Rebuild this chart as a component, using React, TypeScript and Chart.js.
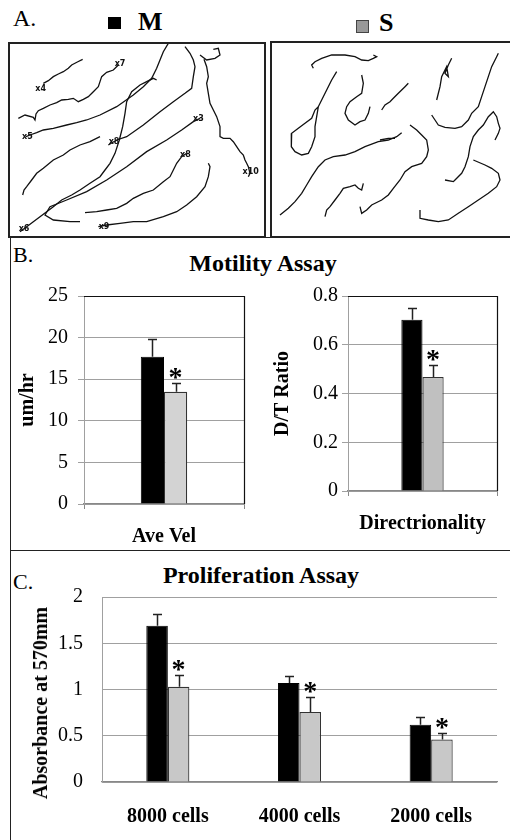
import React, { useEffect, useRef } from "react";
import { Chart, registerables } from "chart.js";
Chart.register(...registerables);

const FONT = "'Liberation Serif', 'Times New Roman', serif";

// ---------- Legend ----------
const groupNames = ["M", "S"];

// ---------- Panel B: motility ----------
const velCategories = ["Ave Vel"];
const velM = [17.7];
const velMErr = [2.1];
const velS = [13.5];
const velSErr = [1.1];
const velSig = [true];

const dirCategories = ["Directrionality"];
const dirM = [0.703];
const dirMErr = [0.046];
const dirS = [0.468];
const dirSErr = [0.05];
const dirSig = [true];

// ---------- Panel C: proliferation ----------
const prolCategories = ["8000 cells", "4000 cells", "2000 cells"];
const prolM = [1.69, 1.07, 0.62];
const prolMErr = [0.127, 0.076, 0.087];
const prolS = [1.03, 0.756, 0.46];
const prolSErr = [0.124, 0.166, 0.065];
const prolSig = [true, true, true];

// ---------- Panel A: cell tracks (track coordinates, arbitrary units) ----------
type P = number[];
const trackM1: P[] = [[130,130],[145,122],[160,110],[175,102],[190,95],[205,85],[215,75],[232,66],[248,58]];
const trackM2: P[] = [[55,235],[75,225],[100,232],[105,240],[108,222],[115,212],[130,205],[150,195],[170,188],[185,180],[205,178],[220,175],[235,185],[250,178],[265,170],[280,155],[295,140],[300,125],[305,110],[320,97],[340,90],[355,75]];
const trackM3: P[] = [[78,290],[90,285],[110,278],[130,270],[160,265],[200,255],[230,248],[260,240],[300,225],[350,200],[400,165],[430,140],[455,115],[470,85],[480,60],[490,35],[505,10]];
const trackM4: P[] = [[60,575],[80,560],[100,545],[120,530],[160,500],[185,480],[215,465],[240,450],[270,430],[300,410],[315,390],[330,370],[345,340],[358,300],[368,260],[375,220],[380,185],[395,155],[420,135],[440,125],[460,115],[470,120]];
const trackM5: P[] = [[325,315],[350,300],[380,290],[430,255],[480,215],[520,185],[555,160],[575,145],[580,110],[585,80],[580,60],[570,40],[555,20]];
const trackM6: P[] = [[240,545],[210,545],[160,540],[135,525],[150,500],[200,480],[260,455],[320,420],[380,380],[440,335],[500,300],[545,270],[580,245],[600,235]];
const trackM7: P[] = [[68,465],[72,450],[80,440],[95,420],[110,400],[130,385],[160,360],[190,345],[210,330],[240,315],[270,305],[300,290]];
const trackM8: P[] = [[255,518],[290,515],[320,510],[350,505],[380,490],[400,475],[430,460],[460,450],[490,425],[510,410],[520,390],[530,370],[545,350],[560,340]];
const trackM9: P[] = [[295,560],[320,555],[360,550],[400,545],[440,545],[490,530],[530,515],[560,495],[590,470],[615,440],[625,410],[630,380],[625,370]];
const trackM10: P[] = [[600,45],[620,60],[645,55],[660,45],[655,25],[640,28]];
const trackM11: P[] = [[612,58],[620,80],[625,110],[620,130],[625,160],[630,190],[640,210],[650,230],[660,260],[660,290],[670,295],[690,295],[700,305],[710,320],[720,335],[730,345],[735,360],[740,370],[745,380],[750,400],[745,410]];
const tracksM = [trackM1, trackM2, trackM3, trackM4, trackM5, trackM6, trackM7, trackM8, trackM9, trackM10, trackM11];
const trackLabelsM: [string, number, number][] = [["x4",122,148],["x7",360,72],["x5",82,292],["x6",72,568],["x8",342,306],["x3",595,238],["x9",312,560],["x10",752,396],["x8",556,344]];

const trackS1: P[] = [[145,85],[140,75],[150,65],[170,55],[200,45],[240,45],[270,50],[290,60],[310,62],[325,55],[335,50],[325,45]];
const trackS2: P[] = [[215,95],[200,120],[185,150],[170,180],[160,200],[150,210],[140,235],[120,250],[100,265],[80,280],[78,300],[80,320],[90,335],[110,345],[130,340],[140,320],[150,290],[150,260],[155,230],[160,200]];
const trackS3: P[] = [[290,105],[295,130],[290,160],[275,170],[255,185],[245,200],[240,220],[250,240],[270,255],[285,245],[300,240],[310,220],[315,200]];
const trackS4: P[] = [[350,210],[360,195],[375,185],[385,175],[400,160],[420,140],[430,130]];
const trackS5: P[] = [[45,525],[70,505],[90,485],[110,460],[125,435],[140,410],[160,380],[180,360],[205,350],[240,345],[270,335],[300,320],[340,305],[370,300],[395,290],[410,278]];
const trackS6: P[] = [[345,300],[370,295],[390,295]];
const trackS7: P[] = [[435,255],[455,270],[470,285],[485,300],[490,330],[485,350],[470,370],[440,380],[420,395],[405,420],[385,445],[370,465],[350,480],[320,495],[305,510],[290,520],[285,500]];
const trackS8: P[] = [[180,530],[185,510],[195,500],[210,480],[225,460],[235,445],[255,440],[270,435],[280,445],[290,450],[295,430]];
const trackS9: P[] = [[560,55],[550,75],[540,100],[550,110],[545,80],[530,110],[525,140],[515,180]];
const trackS10: P[] = [[500,225],[510,240],[520,255],[540,262],[570,265],[590,260],[610,240],[620,220],[640,200],[650,170],[660,140],[670,110],[680,80],[695,50],[700,40]];
const trackS11: P[] = [[540,420],[565,425],[570,420],[590,400],[600,380],[610,350],[615,320],[625,290],[640,270],[655,255],[670,230],[685,215],[695,230],[700,250],[705,265],[700,280],[690,300]];
const trackS12: P[] = [[625,360],[660,375],[680,385],[700,400],[705,420],[695,440],[670,460],[640,480],[610,500],[580,520],[550,540],[520,545],[490,540],[465,535],[465,510]];
const tracksS = [trackS1, trackS2, trackS3, trackS4, trackS5, trackS6, trackS7, trackS8, trackS9, trackS10, trackS11, trackS12];

// ---------- Components ----------
function TrackPanel(props: { tracks: P[][]; labels: [string, number, number][]; xr: [number, number]; yr: [number, number]; left: number; top: number; w: number; h: number }) {
  const ref = useRef<HTMLCanvasElement>(null);
  useEffect(() => {
    const labels = props.labels;
    const chart = new Chart(ref.current!, {
      type: "scatter",
      data: {
        datasets: props.tracks.map((t) => ({
          data: t.map(([x, y]) => ({ x, y })),
          showLine: true,
          borderColor: "#111",
          borderWidth: 1.3,
          pointRadius: 0,
          tension: 0,
        })),
      },
      options: {
        responsive: false,
        animation: false,
        layout: { padding: 0 },
        plugins: { legend: { display: false }, tooltip: { enabled: false } },
        scales: {
          x: { type: "linear", min: props.xr[0], max: props.xr[1], display: false },
          y: { type: "linear", min: props.yr[0], max: props.yr[1], reverse: true, display: false },
        },
      },
      plugins: [
        {
          id: "tracklabels",
          afterDatasetsDraw(c: any) {
            const ctx = c.ctx;
            ctx.save();
            ctx.fillStyle = "#111";
            ctx.font = "bold 8px 'DejaVu Sans', sans-serif";
            ctx.textAlign = "center";
            ctx.textBaseline = "middle";
            labels.forEach(([t, x, y]) => {
              ctx.fillText(t, c.scales.x.getPixelForValue(x), c.scales.y.getPixelForValue(y));
            });
            ctx.restore();
          },
        },
      ],
    } as any);
    return () => chart.destroy();
  }, []);
  return (
    <canvas ref={ref} width={props.w} height={props.h} style={{ position: "absolute", left: props.left, top: props.top, width: props.w, height: props.h }} />
  );
}

type BarProps = {
  cats: string[]; m: number[]; s: number[]; mErr: number[]; sErr: number[]; sig: boolean[];
  yMax: number; yStep: number; yTitle?: string; grey: string;
  left: number; top: number; w: number; h: number;
  yWidth: number; xHeight: number; padTop: number; padRight: number;
  titlePad: number; tickLen: number; tickPad: number; xPad: number; catPct: number;
  box: boolean; xTicks: boolean;
};

function BarPanel(p: BarProps) {
  const ref = useRef<HTMLCanvasElement>(null);
  useEffect(() => {
    const errs = [p.mErr, p.sErr];
    const chart = new Chart(ref.current!, {
      type: "bar",
      data: {
        labels: p.cats,
        datasets: [
          { label: groupNames[0], data: p.m, backgroundColor: "#000", borderColor: "#000", borderWidth: 1, barPercentage: 1, categoryPercentage: p.catPct },
          { label: groupNames[1], data: p.s, backgroundColor: p.grey, borderColor: "#333", borderWidth: 1.2, barPercentage: 1, categoryPercentage: p.catPct },
        ],
      },
      options: {
        responsive: false,
        animation: false,
        layout: { padding: { top: p.padTop, right: p.padRight, left: 0, bottom: 0 } },
        plugins: { legend: { display: false }, tooltip: { enabled: false } },
        scales: {
          x: {
            type: "category",
            offset: true,
            grid: { display: p.xTicks, drawOnChartArea: false, drawTicks: p.xTicks, tickLength: 5, color: "#888", offset: true },
            border: { display: true, color: "#888", width: 1.2 },
            ticks: { font: { family: FONT, size: 20, weight: "bold" }, color: "#000", padding: p.xPad, maxRotation: 0, autoSkip: false },
            afterFit: (sc: any) => { sc.height = p.xHeight; sc.paddingLeft = 0; sc.paddingRight = 0; },
          },
          y: {
            min: 0,
            max: p.yMax,
            ticks: {
              stepSize: p.yStep,
              font: { family: FONT, size: 20 },
              color: "#000",
              padding: p.tickPad,
              callback: (v: any) => String(Number(Number(v).toFixed(2))),
            },
            grid: { color: "#a0a0a0", lineWidth: 1, drawTicks: p.tickLen > 0, tickLength: p.tickLen },
            border: { display: true, color: "#a0a0a0", width: 1 },
            title: { display: !!p.yTitle, text: p.yTitle, color: "#000", font: { family: FONT, size: 20, weight: "bold" }, padding: { top: p.titlePad, bottom: 0 } },
            afterFit: (sc: any) => { sc.width = p.yWidth; sc.paddingTop = 0; sc.paddingBottom = 0; },
          },
        },
      },
      plugins: [
        {
          id: "errbars",
          afterDatasetsDraw(c: any) {
            const ctx = c.ctx;
            const ys = c.scales.y;
            ctx.save();
            c.data.datasets.forEach((ds: any, i: number) => {
              const meta = c.getDatasetMeta(i);
              meta.data.forEach((el: any, j: number) => {
                const v = ds.data[j] as number;
                const x = Math.round(el.x) + 0.5;
                const y0 = el.y;
                const y1 = Math.round(ys.getPixelForValue(v + errs[i][j])) + 0.5;
                ctx.strokeStyle = "#222";
                ctx.lineWidth = 1.5;
                ctx.beginPath();
                ctx.moveTo(x, y0);
                ctx.lineTo(x, y1);
                ctx.moveTo(x - 4.5, y1);
                ctx.lineTo(x + 4.5, y1);
                ctx.stroke();
                if (i === 1 && p.sig[j]) {
                  ctx.fillStyle = "#000";
                  ctx.font = `bold 28px ${FONT}`;
                  ctx.textAlign = "center";
                  ctx.textBaseline = "alphabetic";
                  ctx.fillText("*", el.x, y1 + 2);
                }
              });
            });
            ctx.restore();
          },
          afterDraw(c: any) {
            if (!p.box) return;
            const ctx = c.ctx;
            const a = c.chartArea;
            ctx.save();
            ctx.strokeStyle = "#111";
            ctx.lineWidth = 1.2;
            ctx.beginPath();
            ctx.moveTo(Math.round(a.left), Math.round(a.top) + 0.5);
            ctx.lineTo(Math.round(a.right) + 0.5, Math.round(a.top) + 0.5);
            ctx.lineTo(Math.round(a.right) + 0.5, Math.round(a.bottom));
            ctx.stroke();
            ctx.restore();
          },
        },
      ],
    } as any);
    return () => chart.destroy();
  }, []);
  return (
    <canvas ref={ref} width={p.w} height={p.h} style={{ position: "absolute", left: p.left, top: p.top, width: p.w, height: p.h }} />
  );
}

const txt = (s: React.CSSProperties): React.CSSProperties => ({ position: "absolute", lineHeight: 1, whiteSpace: "nowrap", margin: 0, ...s });

export default function App() {
  return (
    <div style={{ position: "absolute", left: 0, top: 0, width: 510, height: 840, overflow: "hidden", background: "#fff", fontFamily: FONT, color: "#000" }}>
      {/* Panel A header */}
      <div style={txt({ left: 13, top: 6, fontSize: 24 })}>A.</div>
      <div style={{ position: "absolute", left: 108, top: 17, width: 13, height: 12, background: "#000" }} />
      <div style={txt({ left: 138, top: 9, fontSize: 26, fontWeight: "bold" })}>{groupNames[0]}</div>
      <div style={{ position: "absolute", left: 356, top: 20, width: 11, height: 11, background: "#999", border: "1px solid #444" }} />
      <div style={txt({ left: 379, top: 10, fontSize: 26, fontWeight: "bold" })}>{groupNames[1]}</div>

      {/* Panel A boxes */}
      <div style={{ position: "absolute", left: 8, top: 42, width: 254, height: 192, border: "2px solid #222" }} />
      <TrackPanel tracks={tracksM} labels={trackLabelsM} xr={[30, 792]} yr={[12, 588]} left={10} top={44} w={254} h={192} />
      <div style={{ position: "absolute", left: 270, top: 41, width: 250, height: 193, border: "2px solid #222" }} />
      <TrackPanel tracks={tracksS} labels={[]} xr={[21, 729]} yr={[9, 588]} left={272} top={43} w={236} h={193} />

      {/* Panels B & C frame */}
      <div style={{ position: "absolute", left: 10, top: 237, width: 520, height: 620, border: "1.5px solid #222" }} />
      <div style={{ position: "absolute", left: 10, top: 550, width: 510, height: 0, borderTop: "1.5px solid #222" }} />

      {/* Panel B */}
      <div style={txt({ left: 13, top: 244, fontSize: 22 })}>B.</div>
      <div style={txt({ left: 263, top: 251, fontSize: 24, fontWeight: "bold", transform: "translateX(-50%)" })}>Motility Assay</div>
      <BarPanel cats={velCategories} m={velM} s={velS} mErr={velMErr} sErr={velSErr} sig={velSig}
        yMax={25} yStep={5} yTitle="um/hr" grey="#d3d3d3"
        left={14} top={285} w={236} h={260} yWidth={70} xHeight={41} padTop={11} padRight={6}
        titlePad={2} tickLen={6} tickPad={10} xPad={16} catPct={0.29} box={true} xTicks={true} />
      <BarPanel cats={dirCategories} m={dirM} s={dirS} mErr={dirMErr} sErr={dirSErr} sig={dirSig}
        yMax={0.8} yStep={0.2} yTitle="D/T Ratio" grey="#c0c0c0"
        left={270} top={285} w={235} h={250} yWidth={78} xHeight={44} padTop={11} padRight={8}
        titlePad={1} tickLen={6} tickPad={4} xPad={16} catPct={0.284} box={true} xTicks={true} />

      {/* Panel C */}
      <div style={txt({ left: 13, top: 571, fontSize: 22 })}>C.</div>
      <div style={txt({ left: 261, top: 563, fontSize: 24, fontWeight: "bold", transform: "translateX(-50%)" })}>Proliferation Assay</div>
      <BarPanel cats={prolCategories} m={prolM} s={prolS} mErr={prolMErr} sErr={prolSErr} sig={prolSig}
        yMax={2} yStep={0.5} grey="#c8c8c8"
        left={14} top={585} w={490} h={250} yWidth={88} xHeight={53} padTop={12} padRight={7}
        titlePad={14} tickLen={0} tickPad={19} xPad={23} catPct={0.327} box={false} xTicks={false} />
      <div style={txt({ left: 40, top: 703, fontSize: 20, fontWeight: "bold", transform: "translate(-50%, -50%) rotate(-90deg)" })}>Absorbance at 570mm</div>
    </div>
  );
}
